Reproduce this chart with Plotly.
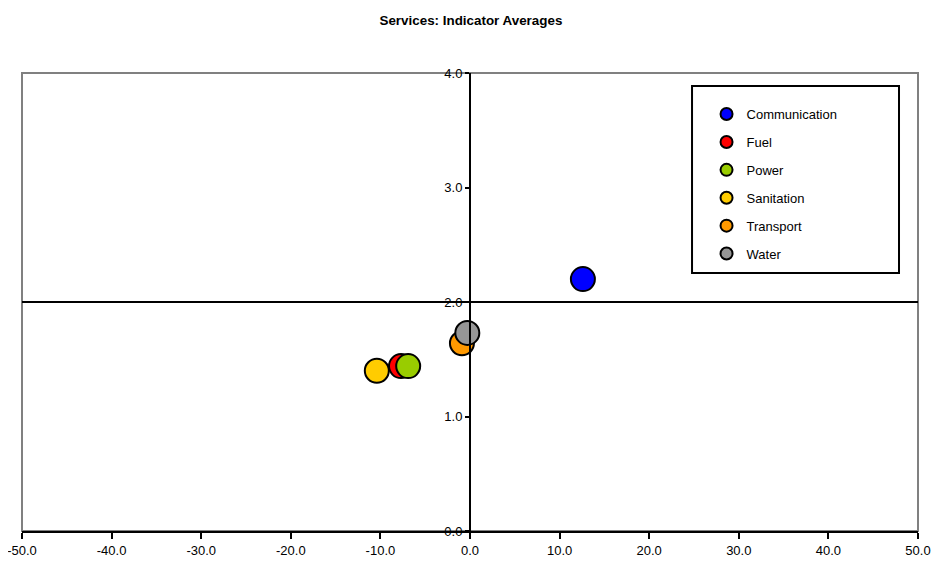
import plotly.graph_objects as go

names = ["Communication", "Fuel", "Power", "Sanitation", "Transport", "Water"]
x_vals = [12.6, -7.7, -6.9, -10.4, -0.9, -0.3]
y_vals = [2.20, 1.44, 1.44, 1.40, 1.64, 1.73]
colors = ["#0000FF", "#FF0000", "#99CC00", "#FFCC00", "#FF9900", "#969696"]
x_ticks = [-50, -40, -30, -20, -10, 0, 10, 20, 30, 40, 50]
x_tick_labels = ["-50.0", "-40.0", "-30.0", "-20.0", "-10.0", "0.0",
                 "10.0", "20.0", "30.0", "40.0", "50.0"]
y_ticks = [0, 1, 2, 3, 4]
y_tick_labels = ["0.0", "1.0", "2.0", "3.0", "4.0"]

fig = go.Figure()
for i, n in enumerate(names):
    fig.add_trace(go.Scatter(
        x=[x_vals[i]], y=[y_vals[i]], mode="markers", name=n,
        legendgroup=n,
        marker=dict(size=24, color=colors[i], line=dict(color="black", width=2)),
    ))

FONT = "Liberation Sans, Arial, sans-serif"
fig.update_layout(
    width=939, height=571,
    margin=dict(l=14, r=29, t=65, b=48),
    plot_bgcolor="white", paper_bgcolor="white",
    font=dict(family=FONT, size=13, color="black"),
    title=dict(text="<b>Services: Indicator Averages</b>", x=0.493, xanchor="center",
               y=0.979, yanchor="middle", font=dict(size=13.4)),
    xaxis=dict(range=[-50, 50], tickvals=x_ticks, ticktext=x_tick_labels,
               automargin=False, ticklabeloverflow="allow",
               showgrid=False, zeroline=True, zerolinecolor="black", zerolinewidth=2,
               showline=True, linecolor="black", linewidth=2,
               ticks="outside", ticklen=6, tickwidth=2, tickcolor="black"),
    yaxis=dict(range=[0, 4], tickvals=y_ticks, ticktext=y_tick_labels,
               automargin=False, ticklabeloverflow="allow",
               anchor="free", position=0.5, showgrid=False, zeroline=False,
               showline=True, linecolor="black", linewidth=2,
               ticks="outside", ticklen=4, tickwidth=2, tickcolor="black"),
    legend=dict(x=0.764, y=0.943, xanchor="left", yanchor="top",
                bgcolor="rgba(0,0,0,0)", borderwidth=0,
                tracegroupgap=8, font=dict(size=13),
                itemsizing="constant"),
    showlegend=True,
    shapes=[
        dict(type="rect", xref="x domain", yref="y domain", x0=0, x1=1, y0=0, y1=1,
             line=dict(color="#808080", width=2), layer="below"),
        dict(type="line", xref="x domain", yref="y", x0=0, x1=1, y0=2, y1=2,
             line=dict(color="black", width=2), layer="below"),
        dict(type="rect", xref="paper", yref="paper", x0=0.7478, x1=0.9788,
             y0=0.5633, y1=0.9716, line=dict(color="black", width=2),
             fillcolor="white", layer="below"),
    ],
)

fig.write_html("out.html")
